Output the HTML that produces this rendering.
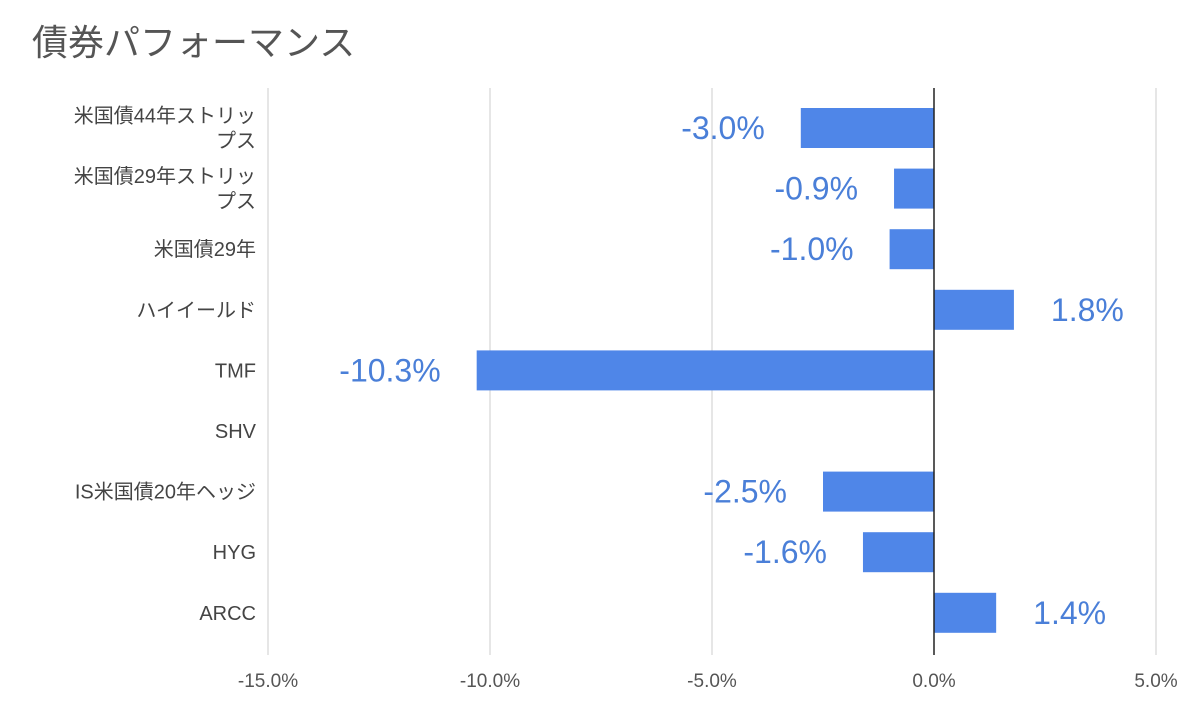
<!DOCTYPE html>
<html><head><meta charset="utf-8">
<style>
html,body{margin:0;padding:0;background:#fff;}
body{width:1194px;height:716px;overflow:hidden;font-family:"Liberation Sans","Noto Sans CJK JP",sans-serif;}
</style></head>
<body>
<svg id="chart" width="1194" height="716" xmlns="http://www.w3.org/2000/svg" style="font-family:'Liberation Sans','Noto Sans CJK JP',sans-serif">
<text x="32" y="55" font-size="36" fill="#555">債券パフォーマンス</text>
<g id="grid"></g><g id="bars"></g><g id="zero"></g><g id="labels"></g>
</svg>
<script>
const categories=[["米国債44年ストリッ","プス"],["米国債29年ストリッ","プス"],["米国債29年"],["ハイイールド"],["TMF"],["SHV"],["IS米国債20年ヘッジ"],["HYG"],["ARCC"]];
const values=[-3.0,-0.9,-1.0,1.8,-10.3,0,-2.5,-1.6,1.4];
const valueLabels=["-3.0%","-0.9%","-1.0%","1.8%","-10.3%","","-2.5%","-1.6%","1.4%"];
const ticks=[-15,-10,-5,0,5];
const tickLabels=["-15.0%","-10.0%","-5.0%","0.0%","5.0%"];
const NS="http://www.w3.org/2000/svg";
const xs=v=>934+v*44.4;
const plotTop=88,plotBottom=655,rowH=60.6;
const ys=i=>128+rowH*i;
function mk(tag,attrs,parent,text){const e=document.createElementNS(NS,tag);for(const k in attrs)e.setAttribute(k,attrs[k]);if(text!==undefined)e.textContent=text;document.getElementById(parent).appendChild(e);return e;}
ticks.forEach((t,i)=>{
 const g=mk('line',{x1:xs(t),x2:xs(t),y1:plotTop,y2:plotBottom,stroke:t===0?'#222':'#ccc','stroke-width':t===0?1.5:1},t===0?'zero':'grid');
 
 
 const l=mk('text',{x:xs(t),y:687,'font-size':19,fill:'#555','text-anchor':'middle'},'labels',tickLabels[i]);
 
 
});
categories.forEach((c,i)=>{
 const cy=ys(i);
 const lines=c.length;
 c.forEach((s,j)=>{
  const t=mk('text',{x:256,y:cy+7+(j-(lines-1)/2)*25,'font-size':20,fill:'#444','text-anchor':'end'},'labels',s);
  
  
 });
 const v=values[i];
 if(v!==0){
  const b=mk('rect',{x:Math.min(xs(0),xs(v)),y:cy-20,width:Math.abs(xs(v)-xs(0)),height:40,fill:'#4f86e8'},'bars');
  
  
 }
 if(valueLabels[i]){
  const neg=v<0;
  const t=mk('text',{x:neg?xs(v)-36:xs(v)+37,y:cy+11,'font-size':32,fill:'#4a7fd8','text-anchor':neg?'end':'start'},'labels',valueLabels[i]);
  
  
 }
});
</script>
</body></html>
